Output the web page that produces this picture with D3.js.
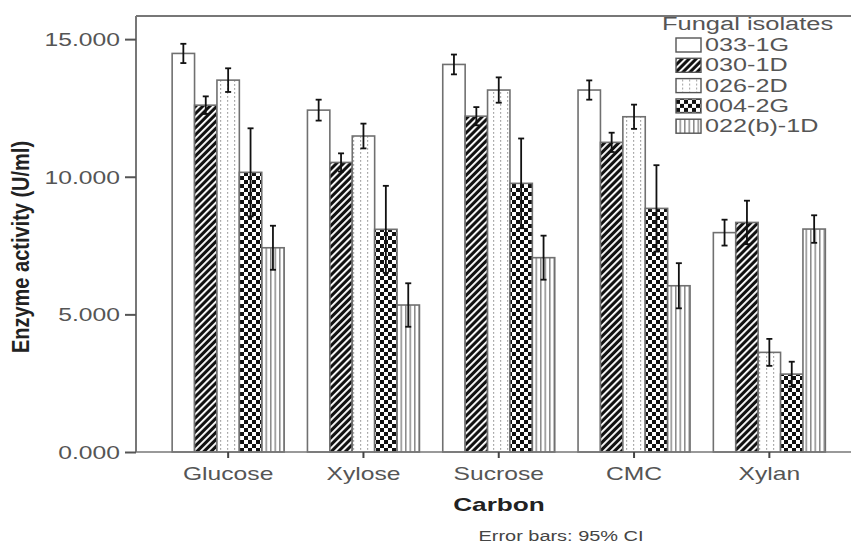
<!DOCTYPE html>
<html>
<head>
<meta charset="utf-8">
<script src="https://cdn.jsdelivr.net/npm/d3@7"></script>
<style>
  html, body { margin: 0; padding: 0; background: #fff; }
  svg { display: block; font-family: Arial, "Liberation Sans", sans-serif; }
</style>
</head>
<body>
<svg id="chart" width="851" height="544"></svg>
<script>
// Carbon sources on the x axis
const categories = ["Glucose", "Xylose", "Sucrose", "CMC", "Xylan"];
// Fungal isolates (one bar per isolate in each group)
const isolates = ["033-1G", "030-1D", "026-2D", "004-2G", "022(b)-1D"];

// Mean enzyme activity (U/ml) per isolate, in category order
const v033 = [14.48, 12.42, 14.08, 13.15, 7.97];
const v030 = [12.60, 10.52, 12.20, 11.25, 8.34];
const v026 = [13.51, 11.48, 13.15, 12.18, 3.62];
const v004 = [10.16, 8.09, 9.76, 8.85, 2.83];
const v022 = [7.42, 5.34, 7.06, 6.04, 8.10];

// 95% CI half-widths, same order
const e033 = [0.35, 0.38, 0.36, 0.35, 0.47];
const e030 = [0.32, 0.33, 0.33, 0.35, 0.79];
const e026 = [0.43, 0.45, 0.46, 0.44, 0.49];
const e004 = [1.60, 1.58, 1.63, 1.57, 0.45];
const e022 = [0.80, 0.79, 0.80, 0.82, 0.50];

const yTicks = [0, 5, 10, 15];

const seriesValues = [v033, v030, v026, v004, v022];
const seriesErrors = [e033, e030, e026, e004, e022];
const patternIds = ["p-open", "p-diag", "p-dots", "p-check", "p-vert"];

const rows = [];
categories.forEach((c, ci) => {
  isolates.forEach((s, si) => {
    rows.push({ cat: c, iso: s, si, value: seriesValues[si][ci], err: seriesErrors[si][ci] });
  });
});

const svg = d3.select("#chart");
const W = 851, H = 544;
const plotLeft = 136, plotTop = 16, plotBottom = 452;
const SX = 1.37; // horizontal widening of the label glyphs

// ---------- hatch patterns ----------
const defs = svg.append("defs");

// diagonal white stripes on black
const pd = defs.append("pattern").attr("id", "p-diag")
  .attr("patternUnits", "userSpaceOnUse").attr("width", 5).attr("height", 5)
  .attr("patternTransform", "rotate(45)");
pd.append("rect").attr("width", 5).attr("height", 5).attr("fill", "#111");
pd.append("rect").attr("x", 0).attr("width", 1.9).attr("height", 5).attr("fill", "#fff");

// dotted vertical lines on white
const pdo = defs.append("pattern").attr("id", "p-dots")
  .attr("patternUnits", "userSpaceOnUse").attr("width", 7).attr("height", 4);
pdo.append("rect").attr("width", 7).attr("height", 4).attr("fill", "#fff");
pdo.append("rect").attr("x", 3).attr("y", 0).attr("width", 1.2).attr("height", 1.8).attr("fill", "#a8a8a8");

// checkerboard
const pc = defs.append("pattern").attr("id", "p-check")
  .attr("patternUnits", "userSpaceOnUse").attr("width", 8).attr("height", 8);
pc.append("rect").attr("width", 8).attr("height", 8).attr("fill", "#fff");
pc.append("rect").attr("x", 0).attr("y", 0).attr("width", 4).attr("height", 4).attr("fill", "#111");
pc.append("rect").attr("x", 4).attr("y", 4).attr("width", 4).attr("height", 4).attr("fill", "#111");

// vertical gray lines
const pv = defs.append("pattern").attr("id", "p-vert")
  .attr("patternUnits", "userSpaceOnUse").attr("width", 4.5).attr("height", 4);
pv.append("rect").attr("width", 4.5).attr("height", 4).attr("fill", "#fff");
pv.append("rect").attr("x", 0).attr("width", 1.5).attr("height", 4).attr("fill", "#8a8a8a");

// ---------- scales ----------
const y = d3.scaleLinear().domain([0, 15.84]).range([plotBottom, plotTop]);
const x0 = d3.scaleBand().domain(categories).range([160.5, 837]).paddingInner(0).paddingOuter(0);
const x1 = d3.scaleBand().domain(isolates).range([0, x0.bandwidth()]).paddingInner(0).paddingOuter(0.52);

// ---------- bars ----------
const g = svg.append("g");
g.selectAll("rect.bar").data(rows).join("rect")
  .attr("class", "bar")
  .attr("x", d => x0(d.cat) + x1(d.iso))
  .attr("y", d => y(d.value))
  .attr("width", x1.bandwidth())
  .attr("height", d => y(0) - y(d.value))
  .attr("fill", d => d.si === 0 ? "#fff" : `url(#${patternIds[d.si]})`)
  .attr("stroke", "#707070")
  .attr("stroke-width", 1.6);

// ---------- error bars ----------
const eb = g.selectAll("g.err").data(rows).join("g").attr("class", "err")
  .attr("stroke", "#111").attr("stroke-width", 1.8);
const cx = d => x0(d.cat) + x1(d.iso) + x1.bandwidth() / 2;
eb.append("line")
  .attr("x1", cx).attr("x2", cx)
  .attr("y1", d => y(d.value + d.err)).attr("y2", d => y(d.value - d.err));
eb.append("line")
  .attr("x1", d => cx(d) - 3).attr("x2", d => cx(d) + 3)
  .attr("y1", d => y(d.value + d.err)).attr("y2", d => y(d.value + d.err));
eb.append("line")
  .attr("x1", d => cx(d) - 3).attr("x2", d => cx(d) + 3)
  .attr("y1", d => y(d.value - d.err)).attr("y2", d => y(d.value - d.err));

// ---------- frame ----------
svg.append("line").attr("x1", plotLeft).attr("x2", W).attr("y1", plotTop).attr("y2", plotTop)
  .attr("stroke", "#777").attr("stroke-width", 2);
svg.append("line").attr("x1", plotLeft).attr("x2", W).attr("y1", plotBottom).attr("y2", plotBottom)
  .attr("stroke", "#777").attr("stroke-width", 1.6);

// ---------- y axis ----------
const yAxis = svg.append("g").attr("transform", `translate(${plotLeft},0)`)
  .call(d3.axisLeft(y).tickValues(yTicks).tickSize(11).tickFormat(d3.format(".3f")));
yAxis.select(".domain").attr("stroke", "#777").attr("stroke-width", 2)
  .attr("d", `M0,${plotTop}V${plotBottom}`);
yAxis.selectAll(".tick line").attr("stroke", "#555").attr("stroke-width", 2);
yAxis.selectAll(".tick text")
  .attr("x", 0).attr("dy", null).attr("y", 0)
  .attr("transform", `translate(-16,6.5) scale(${SX},1)`)
  .attr("text-anchor", "end")
  .attr("fill", "#555").attr("font-size", 18);

// ---------- x axis ----------
const xAxis = svg.append("g").attr("transform", `translate(0,${plotBottom})`)
  .call(d3.axisBottom(x0).tickSize(6).tickPadding(0));
xAxis.select(".domain").remove();
xAxis.selectAll(".tick line").attr("stroke", "#444").attr("stroke-width", 2);
xAxis.selectAll(".tick text")
  .attr("y", 0).attr("dy", null)
  .attr("transform", `translate(0,28) scale(${SX},1)`)
  .attr("fill", "#555").attr("font-size", 18);

// ---------- axis titles ----------
svg.append("text")
  .attr("transform", `translate(499,511) scale(1.38,1)`)
  .attr("text-anchor", "middle")
  .attr("font-size", 19).attr("font-weight", "bold").attr("fill", "#222")
  .text("Carbon");

svg.append("text")
  .attr("transform", `translate(29,247) rotate(-90) scale(1,1.2)`)
  .attr("text-anchor", "middle")
  .attr("font-size", 20).attr("font-weight", "bold").attr("fill", "#222")
  .text("Enzyme activity (U/ml)");

svg.append("text")
  .attr("transform", `translate(561,541) scale(1.33,1)`)
  .attr("text-anchor", "middle")
  .attr("font-size", 15).attr("fill", "#444")
  .text("Error bars: 95% CI");

// ---------- legend ----------
const lg = svg.append("g");
lg.append("text")
  .attr("transform", `translate(662,30) scale(1.34,1)`)
  .attr("font-size", 19).attr("fill", "#555")
  .text("Fungal isolates");
const items = lg.selectAll("g.item").data(isolates).join("g").attr("class", "item")
  .attr("transform", (d, i) => `translate(0,${51 + i * 20.3})`);
items.append("rect")
  .attr("x", 676).attr("y", -13).attr("width", 25).attr("height", 14)
  .attr("fill", (d, i) => i === 0 ? "#fff" : `url(#${patternIds[i]})`)
  .attr("stroke", "#555").attr("stroke-width", 1.4);
items.append("text")
  .attr("transform", `translate(705,0) scale(1.4,1)`)
  .attr("font-size", 18).attr("fill", "#555")
  .text(d => d);
</script>
</body>
</html>
